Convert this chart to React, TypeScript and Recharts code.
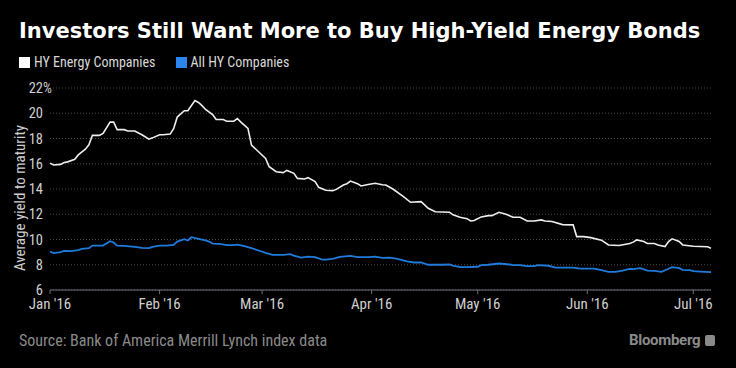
import { LineChart, Line, XAxis, YAxis, CartesianGrid } from 'recharts';

// day of 2016 (Jan 1 = 0) and average yield to maturity, %
const energyDays = [
  0, 1, 3, 4, 5, 7, 8, 10, 11, 12, 14, 15, 17, 18, 19, 21, 22, 24, 26, 28, 29,
  31, 32, 34, 35, 36, 38, 39, 41, 42, 43, 44, 46, 47, 49, 50, 52, 53, 54, 56,
  57, 59, 61, 62, 64, 66, 67, 69, 70, 72, 73, 75, 76, 78, 80, 81, 83, 84, 85,
  87, 88, 90, 92, 94, 95, 97, 100, 102, 105, 107, 109, 111, 113, 114, 116, 118,
  119, 120, 122, 124, 125, 127, 129, 131, 133, 135, 137, 139, 140, 142, 145,
  148, 149, 151, 153, 156, 158, 161, 164, 165, 166, 168, 169, 171, 172, 174,
  175, 176, 178, 179, 182, 184, 186, 187,
];
const energyYield = [
  16.05, 15.9, 15.95, 16.1, 16.15, 16.35, 16.7, 17.15, 17.5, 18.25, 18.25, 18.4,
  19.3, 19.3, 18.7, 18.7, 18.6, 18.6, 18.3, 17.95, 18.05, 18.3, 18.3, 18.35,
  18.8, 19.7, 20.2, 20.2, 21.0, 20.85, 20.6, 20.3, 19.9, 19.5, 19.5, 19.37,
  19.37, 19.58, 19.3, 18.8, 17.47, 16.95, 16.42, 15.76, 15.37, 15.3, 15.47,
  15.24, 14.84, 14.79, 14.9, 14.58, 14.13, 13.9, 13.87, 13.97, 14.32, 14.42,
  14.63, 14.42, 14.24, 14.36, 14.45, 14.34, 14.32, 14.0, 13.39, 12.95, 13.0,
  12.47, 12.2, 12.18, 12.16, 11.95, 11.76, 11.65, 11.47, 11.5, 11.79, 11.89,
  11.89, 12.16, 12.0, 11.76, 11.76, 11.47, 11.47, 11.55, 11.47, 11.42, 11.18,
  11.16, 10.23, 10.23, 10.15, 9.95, 9.57, 9.52, 9.68, 9.79, 9.97, 9.84, 9.68,
  9.68, 9.57, 9.44, 9.84, 10.05, 9.84, 9.57, 9.47, 9.44, 9.42, 9.31,
];

const allHyDays = [
  0, 1, 3, 4, 6, 8, 9, 11, 12, 14, 15, 17, 18, 19, 21, 24, 26, 28, 29, 31, 33,
  35, 36, 38, 39, 40, 42, 44, 45, 46, 48, 50, 52, 53, 55, 57, 59, 61, 63, 66,
  68, 69, 71, 73, 75, 77, 78, 80, 82, 85, 87, 90, 92, 94, 96, 98, 101, 103, 105,
  107, 111, 113, 114, 116, 118, 121, 122, 124, 127, 130, 131, 133, 135, 137,
  138, 141, 143, 145, 148, 150, 152, 154, 156, 158, 160, 162, 164, 165, 167,
  169, 171, 173, 175, 176, 178, 179, 181, 182, 184, 187,
];
const allHyYield = [
  9.05, 8.92, 9.0, 9.1, 9.08, 9.16, 9.26, 9.31, 9.52, 9.52, 9.52, 9.87, 9.76,
  9.52, 9.5, 9.42, 9.34, 9.31, 9.42, 9.52, 9.52, 9.57, 9.84, 10.02, 9.92, 10.18,
  10.05, 9.93, 9.84, 9.68, 9.65, 9.55, 9.55, 9.6, 9.47, 9.31, 9.13, 8.94, 8.79,
  8.79, 8.84, 8.73, 8.57, 8.65, 8.6, 8.41, 8.41, 8.47, 8.63, 8.71, 8.6, 8.6,
  8.65, 8.55, 8.57, 8.49, 8.26, 8.18, 8.18, 8.0, 8.0, 8.02, 7.94, 7.81, 7.81,
  7.84, 7.97, 8.0, 8.1, 8.02, 7.97, 7.97, 7.89, 7.89, 7.97, 7.92, 7.78, 7.78,
  7.78, 7.7, 7.7, 7.7, 7.57, 7.44, 7.44, 7.54, 7.68, 7.65, 7.73, 7.54, 7.52,
  7.44, 7.68, 7.81, 7.73, 7.6, 7.57, 7.49, 7.46, 7.42,
];

const monthTicks = [0, 31, 60, 91, 121, 152, 182];
const monthLabels = ["Jan '16", "Feb '16", "Mar '16", "Apr '16", "May '16", "Jun '16", "Jul '16"];
const yTicks = [6, 8, 10, 12, 14, 16, 18, 20, 22];

const energyData = energyDays.map((day, i) => ({ day, value: energyYield[i] }));
const allHyData = allHyDays.map((day, i) => ({ day, value: allHyYield[i] }));

const FONT = '"Liberation Sans Narrow", "Roboto Condensed", Roboto, sans-serif';
const BLUE = '#1f7bdc';
const LABEL = '#cfcfcf';

const YTick = ({ x, y, payload }: any) => (
  <g>
    <text x={x} y={y} dy={5} textAnchor="end" fill={LABEL} fontSize={14.5} fontFamily={FONT}>
      {payload.value}
    </text>
    {payload.value === 22 && (
      <text x={x} y={y} dy={5} textAnchor="start" fill={LABEL} fontSize={14} fontFamily={FONT}>
        %
      </text>
    )}
  </g>
);

const MonthTick = ({ x, y, payload }: any) => (
  <text x={x} y={y} dy={13} textAnchor="middle" fill={LABEL} fontSize={15} fontFamily={FONT}>
    {monthLabels[monthTicks.indexOf(payload.value)]}
  </text>
);

const YLabel = () => (
  <text
    transform="translate(25,198) rotate(-90)"
    textAnchor="middle"
    fill={LABEL}
    fontSize={15}
    fontFamily={FONT}
  >
    Average yield to maturity
  </text>
);

export default function App() {
  return (
    <div
      style={{
        position: 'fixed',
        left: 0,
        top: 0,
        width: 736,
        height: 368,
        background: '#000',
        overflow: 'hidden',
        fontFamily: FONT,
      }}
    >
      <div
        style={{
          position: 'absolute',
          left: 19,
          top: 19,
          color: '#fff',
          fontFamily: '"DejaVu Sans", sans-serif',
          fontWeight: 700,
          fontSize: 21,
          lineHeight: '25px',
          whiteSpace: 'nowrap',
        }}
      >
        Investors Still Want More to Buy High-Yield Energy Bonds
      </div>
      <div
        style={{
          position: 'absolute',
          left: 19,
          top: 54,
          display: 'flex',
          alignItems: 'center',
          color: '#d8d8d8',
          fontSize: 14,
        }}
      >
        <span style={{ width: 11, height: 11, background: '#fff', marginRight: 4 }} />
        <span style={{ marginRight: 20 }}>HY Energy Companies</span>
        <span style={{ width: 11, height: 11, background: '#2a86ea', marginRight: 4 }} />
        <span>All HY Companies</span>
      </div>

      <div style={{ position: 'absolute', left: 0, top: 0 }}>
        <LineChart width={736} height={330} margin={{ top: 88, right: 25, bottom: 10, left: 0 }}>
          <CartesianGrid horizontal vertical={false} stroke="#4a4a4a" strokeDasharray="1 2" />
          <XAxis
            dataKey="day"
            type="number"
            domain={[0, 187]}
            ticks={monthTicks}
            height={30}
            stroke="#6c717a"
            tickSize={4}
            tickMargin={2}
            tick={<MonthTick />}
            interval={0}
          />
          <YAxis
            type="number"
            domain={[6, 22]}
            ticks={yTicks}
            width={50}
            axisLine={false}
            tickLine={false}
            tickSize={0}
            tickMargin={7}
            tick={<YTick />}
            label={<YLabel />}
          />
          <Line
            data={energyData}
            dataKey="value"
            type="linear"
            stroke="#eeeeee"
            strokeWidth={1.6}
            dot={false}
            isAnimationActive={false}
          />
          <Line
            data={allHyData}
            dataKey="value"
            type="linear"
            stroke={BLUE}
            strokeWidth={1.8}
            dot={false}
            isAnimationActive={false}
          />
        </LineChart>
      </div>

      <div
        style={{
          position: 'absolute',
          left: 19,
          top: 331,
          color: '#8a8a8a',
          fontSize: 16,
          whiteSpace: 'nowrap',
        }}
      >
        Source: Bank of America Merrill Lynch index data
      </div>
      <div
        style={{
          position: 'absolute',
          left: 629,
          top: 331,
          display: 'flex',
          alignItems: 'center',
          color: '#8a8a8a',
          fontFamily: 'Roboto, sans-serif',
          fontWeight: 700,
          fontSize: 15,
          letterSpacing: -0.3,
        }}
      >
        Bloomberg
        <span
          style={{
            display: 'inline-block',
            width: 10,
            height: 11,
            marginLeft: 5,
            background: '#8a8a8a',
            borderRadius: 2,
          }}
        />
      </div>
    </div>
  );
}
